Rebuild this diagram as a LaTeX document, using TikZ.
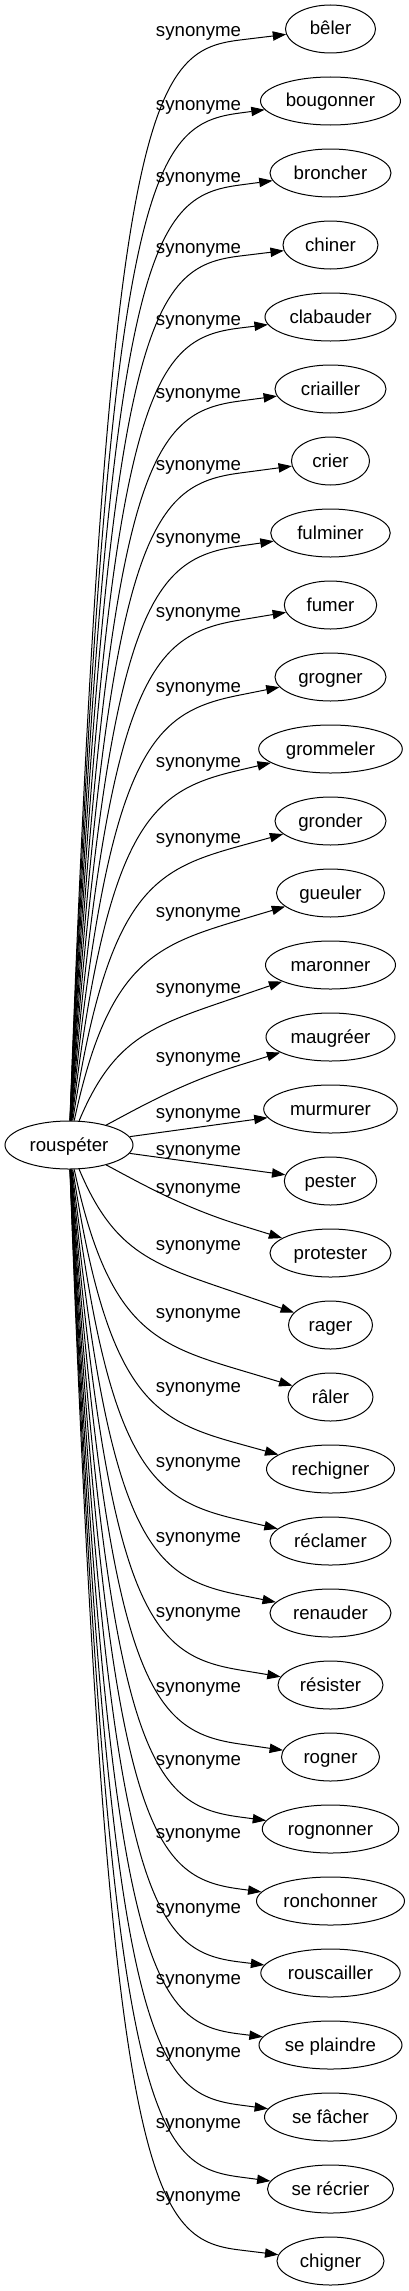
\documentclass[tikz,border=0pt]{standalone}
\usepackage{fontspec}
\setmainfont{Liberation Sans}
\usetikzlibrary{arrows.meta,shapes.geometric,calc}
\begin{document}
\begin{tikzpicture}[x=0.75pt,y=-0.75pt,
  word/.style={ellipse,draw,line width=0.75pt,inner sep=0pt,minimum height=36pt,
    text height=12pt,text depth=3pt,font=\fontsize{14pt}{16pt}\selectfont},
  lab/.style={anchor=base,inner sep=0pt,font=\fontsize{14pt}{16pt}\selectfont},
  edge/.style={line width=0.75pt,-{Triangle[length=10pt,width=7pt]}}]
\useasboundingbox (0,0) rectangle (409,2291);
\node[word,minimum width=96pt] (r) at (69,1145) {rouspéter};
\foreach \ii/\w/\name in {0/90/bêler,1/140/bougonner,2/121/broncher,3/95/chiner,
  4/131/clabauder,5/111/criailler,6/78/crier,7/119.5/fulminer,8/92.4/fumer,
  9/111/grogner,10/143.6/grommeler,11/111/gronder,12/108/gueuler,13/130/maronner,
  14/129/maugréer,15/133.6/murmurer,16/92.4/pester,17/121/protester,18/84/rager,
  19/85/râler,20/128/rechigner,21/121/réclamer,22/121/renauder,23/105/résister,
  24/98/rogner,25/136.5/rognonner,26/148/ronchonner,27/139.4/rouscailler,
  28/143/se plaindre,29/132/se fâcher,30/126/se récrier,31/107/chigner}{
  \pgfmathsetmacro\yy{29+72*\ii}
  \pgfmathsetmacro\ww{0.75*\w}
  \node[word,minimum width=\ww pt] (n\ii) at (330.5,\yy) {\name};
}
\foreach \ii/\ly in {0/32,1/105,2/177,3/248,4/320,5/393,6/465,7/538,8/612,9/687,
  10/762,11/838,12/912,13/988,14/1057,15/1113,16/1150,17/1188,18/1245,19/1313,
  20/1387,21/1462,22/1537,23/1612,24/1687,25/1760,26/1833,27/1908,28/1979,
  29/2052,30/2123,31/2196}{
  \node[lab] (s\ii) at (198.5,\ly+5) {synonyme};
}
\foreach \ii/\ly/\xa/\kk in {0/32/108/67.5,1/105/108/67.5,2/177/108/67.5,
  3/248/108/67.5,4/320/108/67.5,5/393/108/67.5,6/465/108/67.5,7/538/108/67.5,
  8/612/108/67.5,9/687/108/67.5,10/762/108/67.5,11/838/108/67.5,12/912/108/67.5,
  13/988/115/67.5,14/1057/140/45}{
  \pgfmathsetmacro\yy{29+72*\ii}
  \pgfmathsetmacro\ya{\yy+70}
  \pgfmathsetmacro\lb{\ly+8}
  \coordinate (L\ii) at (240,\lb);
  \coordinate (Q\ii) at ($(L\ii)!-\kk pt!(n\ii.center)$);
  \draw[edge] (r) .. controls (\xa,\ya) and (Q\ii) .. (L\ii) -- (n\ii);
  \pgfmathtruncatemacro\jj{31-\ii}
  \pgfmathsetmacro\yj{29+72*\jj}
  \pgfmathsetmacro\yb{\yj-70}
  \pgfmathsetmacro\lbm{2290-\lb}
  \coordinate (M\jj) at (240,\lbm);
  \coordinate (R\jj) at ($(M\jj)!-\kk pt!(n\jj.center)$);
  \draw[edge] (r) .. controls (\xa,\yb) and (R\jj) .. (M\jj) -- (n\jj);
}
\draw[edge] (r) -- (n15);
\draw[edge] (r) -- (n16);
\end{tikzpicture}
\end{document}
